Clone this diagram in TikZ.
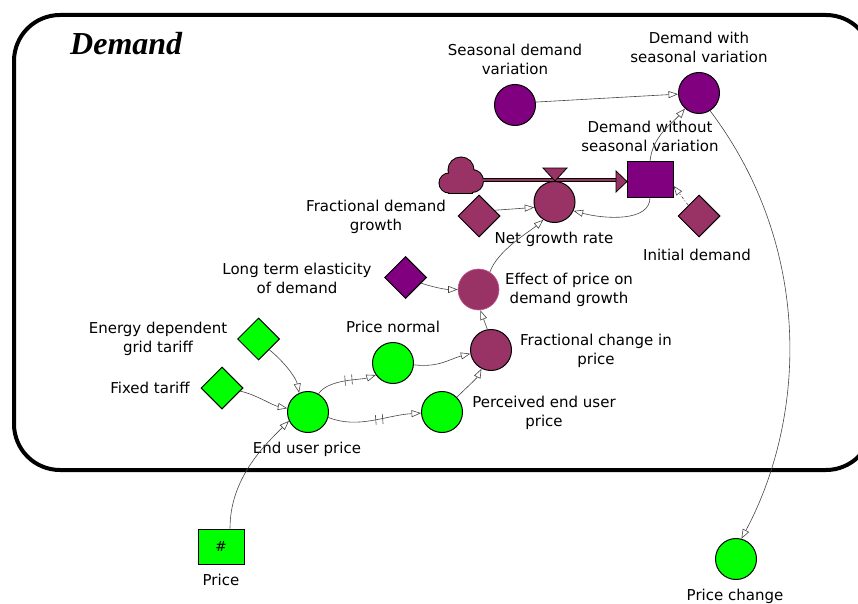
\documentclass[tikz,border=0pt]{standalone}
\usepackage{fontspec}
\setmainfont{DejaVu Sans}
\newfontfamily\titlefont{Liberation Serif}
\usetikzlibrary{shapes.geometric,arrows.meta,decorations.markings}
\definecolor{vgreen}{RGB}{0,255,0}
\definecolor{vpurple}{RGB}{128,0,128}
\definecolor{vmaroon}{RGB}{153,51,102}
\definecolor{ghostedge}{RGB}{190,90,140}
\definecolor{linkgray}{RGB}{70,70,70}
\begin{document}
\begin{tikzpicture}[x=1pt,y=-1pt,
  lbl/.style={font=\fontsize{15}{19}\selectfont, align=center, inner sep=0pt},
  aux/.style={circle, draw=black, line width=1pt, minimum size=41pt, inner sep=0pt},
  cons/.style={diamond, draw=black, line width=1pt, minimum width=42pt, minimum height=42pt, inner sep=0pt},
  stockbox/.style={rectangle, draw=black, line width=1pt, minimum width=46pt, minimum height=35pt, inner sep=0pt},
  link/.style={draw=linkgray, line width=0.6pt, -{Triangle[length=9.5pt,width=7pt,fill=white]}},
  delayed/.style={postaction={decorate, arrows=-}, decoration={markings, mark=at position #1 with {\draw[linkgray, line width=0.6pt] (-4pt,-5pt)--(-3pt,5pt) (3pt,-5pt)--(4pt,5pt);}}},
]
\useasboundingbox (0,0) rectangle (858,604);
% frame
\begin{scope}
\clip (0,0) rectangle (858,604);
\draw[line width=4pt, rounded corners=46pt] (14,15) rectangle (872,470);
\end{scope}
\node[anchor=base west, font=\titlefont\bfseries\itshape\fontsize{32}{36}\selectfont, inner sep=0pt] (title) at (70,55) {Demand};

% nodes
\node[aux, fill=vpurple] (sdv) at (515,105) {};
\node[aux, fill=vpurple] (dwsv) at (699,93) {};
\node[stockbox, fill=vpurple] (dwos) at (650,179.5) {};
\node[aux, fill=vmaroon] (ngr) at (554.5,202) {};
\node[cons, fill=vmaroon] (fdg) at (479,216) {};
\node[cons, fill=vmaroon] (id) at (699,216) {};
\node[cons, fill=vpurple] (lte) at (405.5,277.5) {};
\node[aux, fill=vmaroon, draw=ghostedge, line width=0.6pt] (epdg) at (478.5,289.5) {};
\node[aux, fill=vmaroon] (fcp) at (491,350) {};
\node[aux, fill=vgreen] (pn) at (393,363) {};
\node[aux, fill=vgreen] (pep) at (442,412) {};
\node[aux, fill=vgreen] (eup) at (308,412) {};
\node[cons, fill=vgreen] (edgt) at (258.5,339) {};
\node[cons, fill=vgreen] (ft) at (222,388) {};
\node[stockbox, fill=vgreen, font=\fontsize{14}{16}\selectfont] (price) at (221,546.5) {\#};
\node[aux, fill=vgreen] (pc) at (736,559) {};

% cloud
\coordinate (cloudR) at (483,180);
\coordinate (pipeEnd) at (616,180);
\draw[line width=2pt] (449,183) circle[radius=9.5pt];
\draw[line width=2pt] (461,170) circle[radius=12.5pt];
\draw[line width=2pt] (472,181) circle[radius=11pt];
\draw[line width=2pt] (449,175) rectangle (472,192.5);
\fill[vmaroon] (449,183) circle[radius=9.5pt];
\fill[vmaroon] (461,170) circle[radius=12.5pt];
\fill[vmaroon] (472,181) circle[radius=11pt];
\fill[vmaroon] (449,175) rectangle (472,192.5);
% pipe
\draw[line width=4.5pt] (cloudR) -- (pipeEnd);
\draw[vmaroon, line width=1.8pt] (cloudR) -- (pipeEnd);
\draw[fill=vmaroon, line width=0.8pt] (616,171) -- (627,181.5) -- (616,192) -- cycle;
\draw[fill=vmaroon, line width=0.8pt] (543,168) -- (567,168) -- (555,181) -- cycle;

% labels
\node[lbl] (l-sdv) at (515,59.5) {Seasonal demand\\variation};
\node[lbl] (l-dwsv) at (699,47.5) {Demand with\\seasonal variation};
\node[lbl] (l-dwos) at (650,136.5) {Demand without\\seasonal variation};
\node[lbl] (l-fdg) at (376,216.5) {Fractional demand\\growth};
\node[lbl] (l-ngr) at (554,239) {Net growth rate};
\node[lbl] (l-id) at (697,255) {Initial demand};
\node[lbl] (l-lte) at (297,278) {Long term elasticity\\of demand};
\node[lbl] (l-epdg) at (569,289.5) {Effect of price on\\demand growth};
\node[lbl] (l-pn) at (393,327) {Price normal};
\node[lbl] (l-fcp) at (596,351) {Fractional change in\\price};
\node[lbl] (l-edgt) at (158,339) {Energy dependent\\grid tariff};
\node[lbl] (l-ft) at (150,388) {Fixed tariff};
\node[lbl] (l-pep) at (544,412.5) {Perceived end user\\price};
\node[lbl] (l-eup) at (307,449) {End user price};
\node[lbl] (l-price) at (221,580) {Price};
\node[lbl] (l-pc) at (735,596) {Price change};

% connectors
\draw[link] (sdv.8) -- (dwsv.183);
\draw[link] (dwos.north) .. controls +(2,-25) and +(-12,14) .. (dwsv.228);
\draw[link] (dwsv.-58) .. controls (815,250) and (805,420) .. (pc.75);
\draw[link] (dwos.south) .. controls +(0,25) and +(30,8) .. (ngr.-25);
\draw[link, dash pattern=on 3pt off 2pt on 1pt off 2pt] (id.135) -- (dwos.-15);
\draw[link] (fdg.20) -- (ngr.195);
\draw[link] (epdg.57) .. controls +(8,-22) and +(-14,12) .. (ngr.238);
\draw[link] (lte.-20) .. controls +(12,4) and +(-12,0) .. (epdg.180);
\draw[link] (fcp.100) -- (epdg.-85);
\draw[link] (pn.-5) .. controls +(25,3) and +(-20,5) .. (fcp.190);
\draw[link] (pep.45) .. controls +(8,-8) and +(-5,10) .. (fcp.243);
\draw[link, delayed=0.55] (eup.60) .. controls +(10,-15) and +(-15,5) .. (pn.215);
\draw[link, delayed=0.55] (eup.-15) .. controls +(30,12) and +(-35,2) .. (pep.183);
\draw[link] (edgt.-45) .. controls +(15,12) and +(-3,-15) .. (eup.115);
\draw[link] (ft.-10) .. controls +(15,3) and +(-15,-3) .. (eup.170);
\draw[link] ([xshift=9pt]price.north) .. controls +(0,-50) and +(-25,25) .. (eup.205);
\end{tikzpicture}
\end{document}
